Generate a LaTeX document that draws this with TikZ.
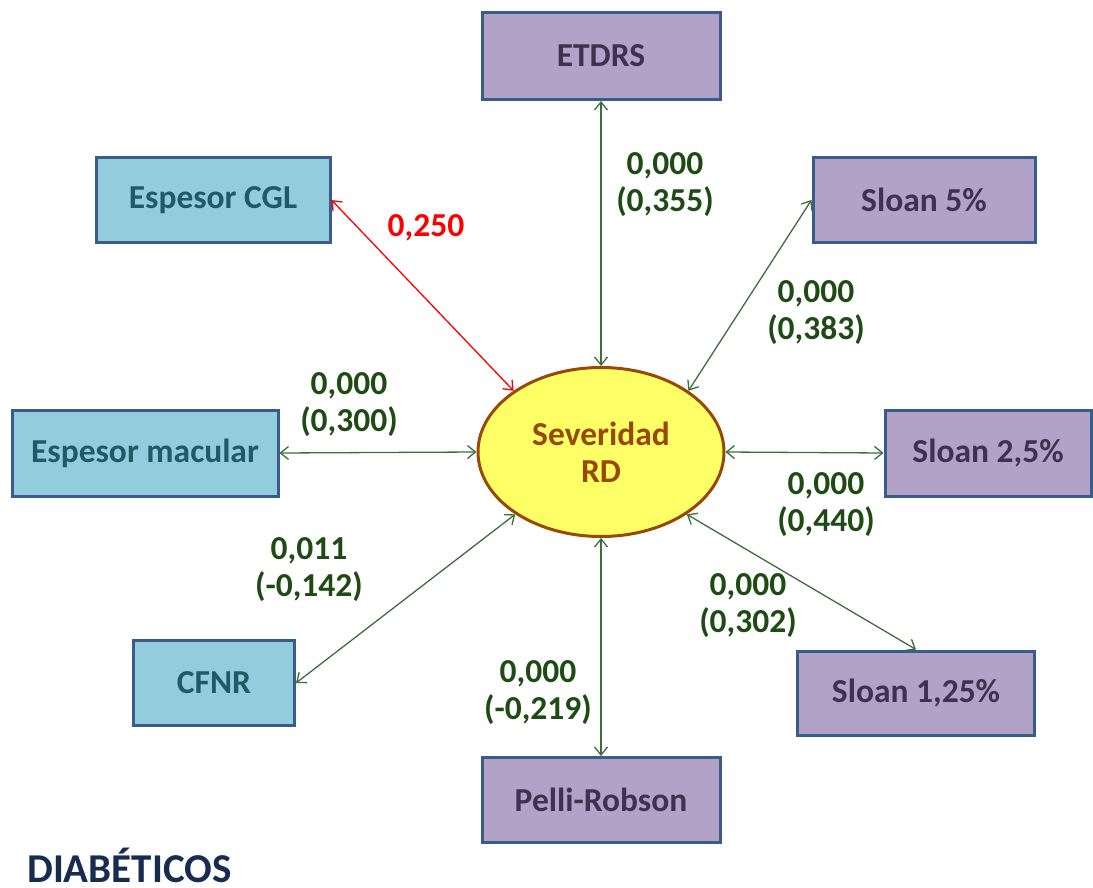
\documentclass[tikz,border=0pt]{standalone}
\usepackage{fontspec}
\setmainfont{Carlito}
\usetikzlibrary{shapes.geometric,arrows.meta}
\definecolor{boxline}{RGB}{56,93,138}
\definecolor{bluefill}{RGB}{147,205,221}
\definecolor{bluetext}{RGB}{33,89,103}
\definecolor{purplefill}{RGB}{179,162,199}
\definecolor{purpletext}{RGB}{64,49,82}
\definecolor{ellfill}{RGB}{255,255,102}
\definecolor{ellline}{RGB}{152,72,7}
\definecolor{linkgreen}{RGB}{60,110,60}
\definecolor{labelgreen}{RGB}{30,75,20}
\definecolor{titlenavy}{RGB}{23,45,80}
\begin{document}
\begin{tikzpicture}[x=1pt,y=-1pt,
  every node/.style={font=\fontsize{33.5}{37}\selectfont\bfseries},
  varbox/.style={rectangle,draw=boxline,line width=3pt,inner sep=0pt,align=center},
  bluebox/.style={varbox,fill=bluefill,text=bluetext},
  purplebox/.style={varbox,fill=purplefill,text=purpletext},
  link/.style={draw=linkgreen,line width=1.3pt,{Straight Barb[length=8pt,width=13pt]}-{Straight Barb[length=8pt,width=13pt]}},
  redlink/.style={link,draw=red},
  stat/.style={text=labelgreen,align=center,inner sep=0pt}
]
\useasboundingbox (0,0) rectangle (1093,888);

% central variable
\node[ellipse,draw=ellline,line width=3pt,fill=ellfill,text=ellline,
      minimum width=246pt,minimum height=169pt,inner sep=0pt,align=center]
      (sev) at (601,452) {Severidad\\RD};

% structural measures
\node[bluebox,minimum width=234pt,minimum height=84pt] (cgl) at (213,200) {Espesor CGL};
\node[bluebox,minimum width=266pt,minimum height=86pt] (mac) at (145,453) {Espesor macular};
\node[bluebox,minimum width=161pt,minimum height=85pt] (cfnr) at (214,683) {CFNR};

% functional measures
\node[purplebox,minimum width=238pt,minimum height=87pt] (etdrs) at (601,56) {ETDRS};
\node[purplebox,minimum width=222pt,minimum height=84pt] (s5) at (924,200) {Sloan 5\%};
\node[purplebox,minimum width=206pt,minimum height=86pt] (s25) at (988,453) {Sloan 2,5\%};
\node[purplebox,minimum width=237pt,minimum height=84pt] (s125) at (916,693) {Sloan 1,25\%};
\node[purplebox,minimum width=238pt,minimum height=85pt] (pelli) at (601,800) {Pelli-Robson};

% correlations
\draw[link] (etdrs.south) -- (sev.north);
\draw[redlink] (cgl.east) -- (sev.145);
\draw[link] (s5.west) -- (sev.35);
\draw[link] (mac.east) -- (sev.west);
\draw[link] (s25.west) -- (sev.east);
\draw[link] (cfnr.east) -- (sev.216);
\draw[link] (s125.north) -- (sev.-36);
\draw[link] (pelli.north) -- (sev.south);

% p-values and coefficients
\node[stat] (tetdrs) at (665,185) {0,000\\(0,355)};
\node[stat,text=red] (tcgl) at (426,228) {0,250};
\node[stat] (ts5) at (816,313) {0,000\\(0,383)};
\node[stat] (tmac) at (349,405) {0,000\\(0,300)};
\node[stat] (ts25) at (826,505) {0,000\\(0,440)};
\node[stat] (tcfnr) at (309,570) {0,011\\(-0,142)};
\node[stat] (ts125) at (748,606) {0,000\\(0,302)};
\node[stat] (tpelli) at (538,693) {0,000\\(-0,219)};

% group title
\node[text=titlenavy,anchor=base west,inner sep=0pt,font=\fontsize{41}{44}\selectfont\bfseries]
  (title) at (27,882) {DIABÉTICOS};
\end{tikzpicture}
\end{document}
